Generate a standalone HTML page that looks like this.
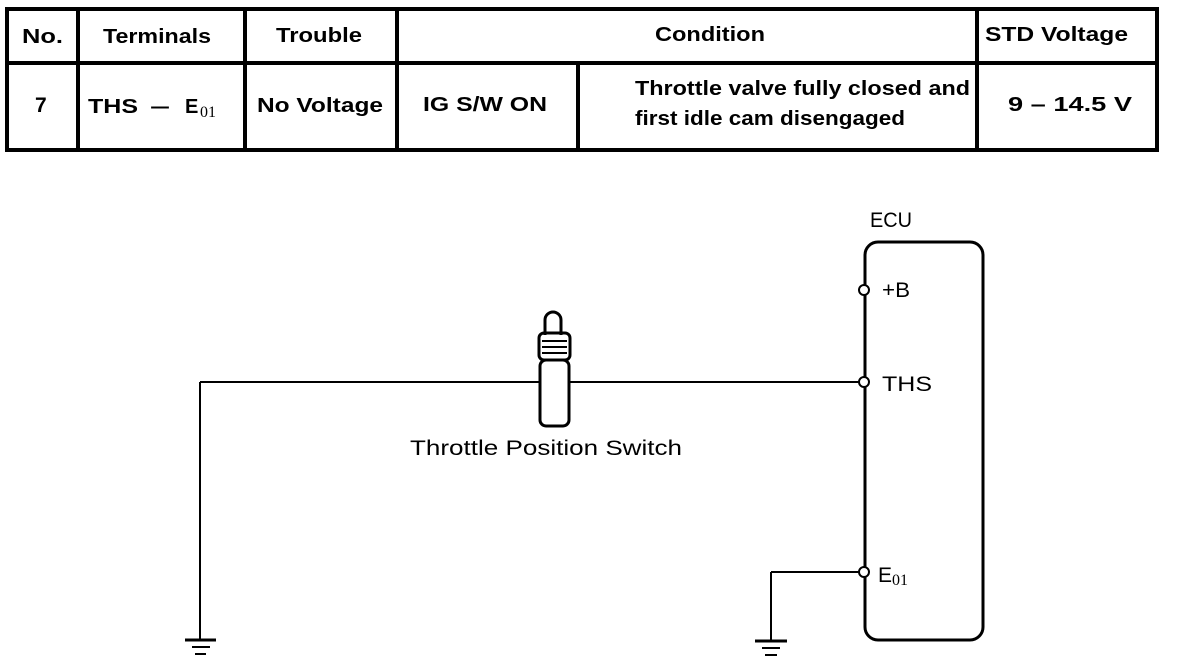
<!DOCTYPE html>
<html><head><style>
body{margin:0;background:#fff;width:1184px;height:664px;overflow:hidden;font-family:"Liberation Sans",sans-serif}
svg{position:absolute;left:0;top:0}
</style></head><body>
<svg width="1184" height="664" viewBox="0 0 1184 664">
<g stroke="#000" stroke-width="4" fill="none">
<rect x="7" y="9" width="1150" height="141"/>
<line x1="7" y1="63" x2="1157" y2="63"/>
<line x1="78" y1="9" x2="78" y2="150"/>
<line x1="245" y1="9" x2="245" y2="150"/>
<line x1="397" y1="9" x2="397" y2="150"/>
<line x1="578" y1="63" x2="578" y2="150"/>
<line x1="977" y1="9" x2="977" y2="150"/>
</g>
<g font-weight="bold" font-size="20" fill="#000">
<text x="22" y="43" textLength="41" lengthAdjust="spacingAndGlyphs">No.</text>
<text x="103" y="43" textLength="108" lengthAdjust="spacingAndGlyphs">Terminals</text>
<text x="276" y="42" textLength="86" lengthAdjust="spacingAndGlyphs">Trouble</text>
<text x="655" y="41" textLength="110" lengthAdjust="spacingAndGlyphs">Condition</text>
<text x="985" y="41" textLength="143" lengthAdjust="spacingAndGlyphs">STD Voltage</text>
<text x="35" y="112" font-size="21">7</text>
<text x="423" y="111" textLength="124" lengthAdjust="spacingAndGlyphs">IG S/W ON</text>
<text x="257" y="112" textLength="126" lengthAdjust="spacingAndGlyphs">No Voltage</text>
<text x="1008" y="111" textLength="124" lengthAdjust="spacingAndGlyphs">9 – 14.5 V</text>
<text x="635" y="95" textLength="335" lengthAdjust="spacingAndGlyphs">Throttle valve fully closed and</text>
<text x="635" y="125" textLength="270" lengthAdjust="spacingAndGlyphs">first idle cam disengaged</text>
<text x="88" y="113" textLength="50" lengthAdjust="spacingAndGlyphs">THS</text>
<text x="150" y="113" textLength="20" lengthAdjust="spacingAndGlyphs">–</text>
<text x="185" y="113">E</text>
</g>
<text x="200" y="117" font-family="Liberation Serif" font-size="16">01</text>
<g stroke="#000" fill="none">
<line x1="200" y1="382" x2="540" y2="382" stroke-width="2"/>
<line x1="568" y1="382" x2="860" y2="382" stroke-width="2"/>
<line x1="200" y1="382" x2="200" y2="640" stroke-width="2"/>
<line x1="185" y1="640" x2="216" y2="640" stroke-width="3"/>
<line x1="192" y1="647" x2="210" y2="647" stroke-width="2"/>
<line x1="195" y1="654" x2="206" y2="654" stroke-width="2"/>
<line x1="771" y1="572" x2="860" y2="572" stroke-width="2"/>
<line x1="771" y1="572" x2="771" y2="640" stroke-width="2"/>
<line x1="755" y1="641" x2="787" y2="641" stroke-width="3"/>
<line x1="762" y1="648" x2="780" y2="648" stroke-width="2"/>
<line x1="765" y1="655" x2="777" y2="655" stroke-width="2"/>
<rect x="865" y="242" width="118" height="398" rx="13" stroke-width="3"/>
<rect x="540" y="360" width="29" height="66" rx="6" stroke-width="3"/>
<path d="M545 335 V320 a8 8 0 0 1 16 0 V335" stroke-width="3"/>
<rect x="539" y="333" width="31" height="27" rx="5" stroke-width="3"/>
<line x1="542" y1="341" x2="567" y2="341" stroke-width="2"/>
<line x1="542" y1="347" x2="567" y2="347" stroke-width="2"/>
<line x1="542" y1="353" x2="567" y2="353" stroke-width="2"/>
</g>
<g fill="#fff" stroke="#000" stroke-width="2">
<circle cx="864" cy="290" r="5"/>
<circle cx="864" cy="382" r="5"/>
<circle cx="864" cy="572" r="5"/>
</g>
<g font-size="21" fill="#000">
<text x="870" y="227" textLength="42" lengthAdjust="spacingAndGlyphs">ECU</text>
<text x="882" y="297" textLength="28" lengthAdjust="spacingAndGlyphs">+B</text>
<text x="882" y="391" textLength="50" lengthAdjust="spacingAndGlyphs">THS</text>
<text x="878" y="582">E</text>
<text x="410" y="455" textLength="272" lengthAdjust="spacingAndGlyphs">Throttle Position Switch</text>
</g>
<text x="892" y="585" font-family="Liberation Serif" font-size="16">01</text>
</svg>
</body></html>
